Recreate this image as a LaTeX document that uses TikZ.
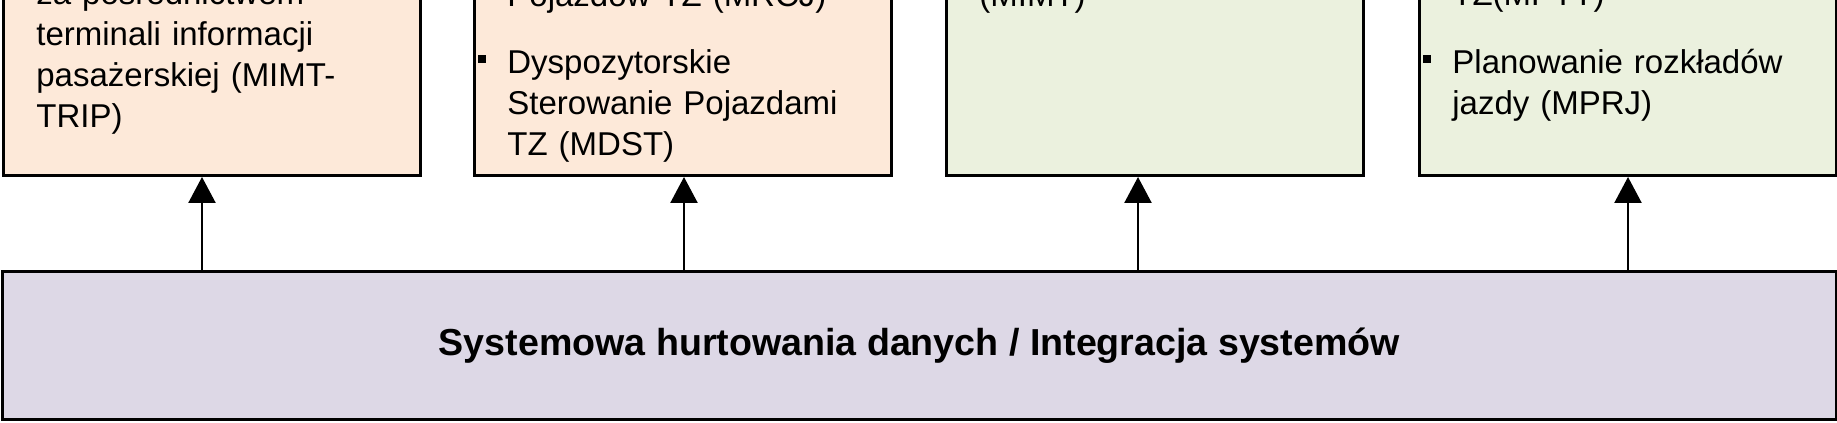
\documentclass[tikz,border=0pt]{standalone}
\usepackage{fontspec}
\setmainfont{Liberation Sans}
\usetikzlibrary{arrows.meta,positioning}

\definecolor{brzoskw}{HTML}{FDE9D9}
\definecolor{oliwka}{HTML}{EBF1DE}
\definecolor{lawenda}{HTML}{DDD8E6}

\newcommand{\pkt}{\hspace*{-14.5pt}\makebox[14.5pt][l]{\rule[5.5pt]{4pt}{4pt}}}

\begin{document}
\begin{tikzpicture}[x=0.5pt,y=0.5pt]
\tikzstyle{modul}=[rectangle, draw=black, line width=1.4pt, inner sep=0pt,
	minimum width=208.5pt, minimum height=122pt, anchor=south west
]
\tikzstyle{opis}=[anchor=base west, inner sep=0pt, text width=205pt, align=left,
	font=\fontsize{16.5pt}{20.5pt}\selectfont
]
\tikzstyle{strz}=[-{Triangle[length=13pt,width=13.5pt]}, line width=1.2pt]
\useasboundingbox (0,0) rectangle (1837,423);
\clip (0,0) rectangle (1837,423);

\node[modul, fill=brzoskw] (m1) at (2,246) {};
\node[modul, fill=brzoskw] (m2) at (473,246) {};
\node[modul, fill=oliwka] (m3) at (945,246) {};
\node[modul, fill=oliwka] (m4) at (1418,246) {};
\node[rectangle, draw=black, line width=1.4pt, fill=lawenda, anchor=south west,
	minimum width=917pt, minimum height=74pt,
	font=\fontsize{18.8pt}{22pt}\selectfont\bfseries] (hd) at (1,2)
	{Systemowa hurtowania danych / Integracja systemów};

% teksty w modulach
\node[opis] (t1) at (7,418) {\leftskip=14.5pt za pośrednictwem\\terminali informacji\\pasażerskiej (MIMT-\\TRIP)\par};
\node[opis] (t2) at (478,416) {\leftskip=14.5pt Pojazdów TZ (MRCJ)\par\vspace{13pt}\pkt Dyspozytorskie\\Sterowanie Pojazdami\\TZ (MDST)\par};
\node[opis] (t3) at (950,416) {\leftskip=14.5pt (MIMT)\par};
\node[opis] (t4) at (1423,417) {\leftskip=14.5pt TZ(MPTT)\par\vspace{13.5pt}\pkt Planowanie rozkładów\\jazdy (MPRJ)\par};

% polaczenia
\coordinate (a1) at (202,0);
\coordinate (a2) at (684,0);
\coordinate (a3) at (1138,0);
\coordinate (a4) at (1628,0);
\draw[strz] (hd.north -| a1) -- (m1.south -| a1);
\draw[strz] (hd.north -| a2) -- (m2.south -| a2);
\draw[strz] (hd.north -| a3) -- (m3.south -| a3);
\draw[strz] (hd.north -| a4) -- (m4.south -| a4);

\end{tikzpicture}
\end{document}
